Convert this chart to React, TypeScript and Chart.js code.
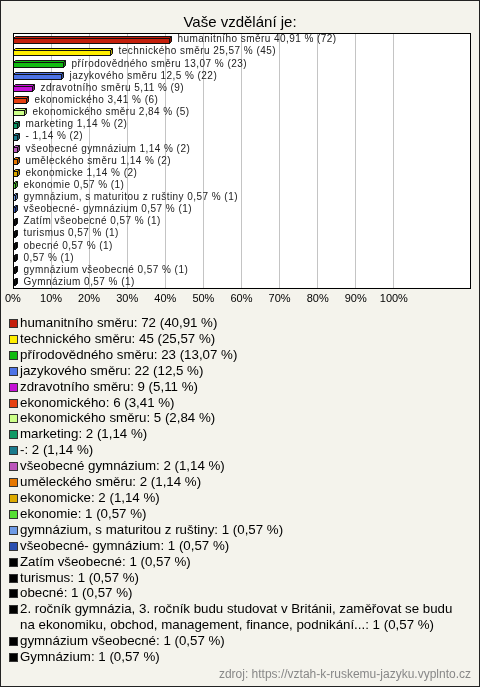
import React, { useEffect, useRef } from 'react';
import { Chart, registerables } from 'chart.js';

Chart.register(...registerables);

const categories = [
  'humanitního směru',
  'technického směru',
  'přírodovědného směru',
  'jazykového směru',
  'zdravotního směru',
  'ekonomického',
  'ekonomického směru',
  'marketing',
  '-',
  'všeobecné gymnázium',
  'uměleckého směru',
  'ekonomicke',
  'ekonomie',
  'gymnázium, s maturitou z ruštiny',
  'všeobecné- gymnázium',
  'Zatím všeobecné',
  'turismus',
  'obecné',
  '2. ročník gymnázia, 3. ročník budu studovat v Británii, zaměřovat se budu na ekonomiku, obchod, management, finance, podnikání...',
  'gymnázium všeobecné',
  'Gymnázium',
];

// names printed next to bars (the long answer is shown without a name)
const barNames = [
  'humanitního směru',
  'technického směru',
  'přírodovědného směru',
  'jazykového směru',
  'zdravotního směru',
  'ekonomického',
  'ekonomického směru',
  'marketing',
  '-',
  'všeobecné gymnázium',
  'uměleckého směru',
  'ekonomicke',
  'ekonomie',
  'gymnázium, s maturitou z ruštiny',
  'všeobecné- gymnázium',
  'Zatím všeobecné',
  'turismus',
  'obecné',
  '',
  'gymnázium všeobecné',
  'Gymnázium',
];

const counts = [72, 45, 23, 22, 9, 6, 5, 2, 2, 2, 2, 2, 1, 1, 1, 1, 1, 1, 1, 1, 1];
const percents = [40.91, 25.57, 13.07, 12.5, 5.11, 3.41, 2.84, 1.14, 1.14, 1.14, 1.14, 1.14, 0.57, 0.57, 0.57, 0.57, 0.57, 0.57, 0.57, 0.57, 0.57];

const colors = [
  '#c41f0c', '#ffee00', '#11bb11', '#4d73e6', '#c411d4', '#e64010', '#ccff88',
  '#119966', '#1a7a8c', '#bb55bb', '#e67700', '#ddaa00', '#55dd33', '#6f9be6',
  '#2a4fb0', '#000000', '#000000', '#000000', '#000000', '#000000', '#000000',
];

const xTickMax = 100;
const xAxisMax = 120;

const fmt = (v: number) => String(v).replace('.', ',');

function shade(hex: string, f: number) {
  const n = parseInt(hex.slice(1), 16);
  const r = Math.round(((n >> 16) & 255) * f);
  const g = Math.round(((n >> 8) & 255) * f);
  const b = Math.round((n & 255) * f);
  return `rgb(${r},${g},${b})`;
}

const FONT = '"Liberation Sans", Arial, sans-serif';

const plotPlugin = {
  id: 'plot3d',
  beforeDraw(chart: any) {
    const { ctx, chartArea: a } = chart;
    ctx.save();
    ctx.fillStyle = '#ffffff';
    ctx.fillRect(a.left, a.top, a.right - a.left, a.bottom - a.top);
    ctx.restore();
  },
  afterDatasetsDraw(chart: any) {
    const { ctx, chartArea: a } = chart;
    const meta = chart.getDatasetMeta(0);
    const d = 2;
    ctx.save();
    ctx.lineWidth = 1;
    ctx.strokeStyle = '#111';
    meta.data.forEach((el: any, i: number) => {
      const p = el.getProps(['x', 'y', 'base', 'height'], true);
      const x0 = Math.round(p.base) + 0.5;
      const x1 = Math.max(Math.round(p.x) + 0.5, x0 + 1);
      const y0 = Math.round(p.y - p.height / 2 + 1) + 0.5;
      const y1 = y0 + Math.round(p.height);
      const c = colors[i];
      // top face
      ctx.beginPath();
      ctx.moveTo(x0, y0);
      ctx.lineTo(x0 + d, y0 - d);
      ctx.lineTo(x1 + d, y0 - d);
      ctx.lineTo(x1, y0);
      ctx.closePath();
      ctx.fillStyle = c;
      ctx.fill();
      ctx.stroke();
      // side face
      ctx.beginPath();
      ctx.moveTo(x1, y0);
      ctx.lineTo(x1 + d, y0 - d);
      ctx.lineTo(x1 + d, y1 - d);
      ctx.lineTo(x1, y1);
      ctx.closePath();
      ctx.fillStyle = shade(c, 0.7);
      ctx.fill();
      ctx.stroke();
      // front face
      ctx.fillStyle = c;
      ctx.fillRect(x0, y0, x1 - x0, y1 - y0);
      ctx.strokeRect(x0, y0, x1 - x0, y1 - y0);
      // label
      const name = barNames[i];
      const txt = (name ? name + ' ' : '') + fmt(percents[i]) + ' % (' + counts[i] + ')';
      ctx.fillStyle = '#222';
      ctx.font = '10px ' + FONT;
      try { (ctx as any).letterSpacing = '0.45px'; } catch (e) {}
      ctx.textBaseline = 'middle';
      ctx.textAlign = 'left';
      ctx.fillText(txt, x1 + d + 6, p.y + 0.5);
      try { (ctx as any).letterSpacing = '0px'; } catch (e) {}
    });
    // plot border
    ctx.strokeStyle = '#000';
    ctx.strokeRect(Math.round(a.left) + 0.5, Math.round(a.top) + 0.5, Math.round(a.right - a.left), Math.round(a.bottom - a.top));
    ctx.restore();
  },
};

function BarChart() {
  const ref = useRef<HTMLCanvasElement>(null);
  useEffect(() => {
    if (!ref.current) return;
    const chart = new Chart(ref.current, {
      type: 'bar',
      data: {
        labels: categories,
        datasets: [
          {
            data: percents,
            backgroundColor: 'rgba(0,0,0,0)',
            borderWidth: 0,
            barThickness: 5,
          },
        ],
      },
      options: {
        indexAxis: 'y',
        animation: false,
        responsive: false,
        maintainAspectRatio: false,
        layout: { padding: { left: 10, right: 10, top: 0, bottom: 5 } },
        plugins: {
          legend: { display: false },
          tooltip: { enabled: false },
          title: {
            display: true,
            text: 'Vaše vzdělání je:',
            color: '#000',
            font: { family: FONT, size: 15, weight: 'normal' },
            padding: { top: 14, bottom: 1 },
          },
        },
        scales: {
          x: {
            min: 0,
            max: xAxisMax,
            border: { display: false },
            grid: {
              color: (c: any) => (c.tick && c.tick.value > 0 && c.tick.value <= xTickMax ? '#c4c4c4' : 'rgba(0,0,0,0)'),
              drawTicks: false,
            },
            ticks: {
              stepSize: 10,
              padding: 5,
              color: '#000',
              maxRotation: 0,
              autoSkip: false,
              font: { family: FONT, size: 11 },
              callback: (v: any) => (Number(v) <= xTickMax ? v + '%' : ''),
            },
          },
          y: {
            display: false,
          },
        },
      },
      plugins: [plotPlugin],
    } as any);
    return () => chart.destroy();
  }, []);
  return <canvas ref={ref} width={480} height={316} style={{ display: 'block', width: 480, height: 316 }} />;
}

export default function App() {
  return (
    <div
      style={{
        position: 'absolute',
        left: 0,
        top: 0,
        width: 478,
        height: 685,
        border: '1px solid #222',
        background: '#f4f3ec',
        overflow: 'hidden',
        fontFamily: FONT,
      }}
    >
      <div style={{ position: 'absolute', left: -1, top: -1 }}>
        <BarChart />
      </div>
      <div
        style={{
          position: 'absolute',
          left: 8,
          top: 314,
          width: 458,
          fontSize: 13.3,
          lineHeight: '15.9px',
          color: '#000',
        }}
      >
        {categories.map((c, i) => (
          <div key={i} style={{ display: 'flex', alignItems: 'flex-start' }}>
            <span
              style={{
                flex: 'none',
                width: 7,
                height: 7,
                border: '1px solid #333',
                background: colors[i],
                marginTop: 4,
                marginRight: 2,
              }}
            />
            <span>
              {c}: {counts[i]} ({fmt(percents[i])} %)
            </span>
          </div>
        ))}
      </div>
      <div
        style={{
          position: 'absolute',
          right: 8,
          top: 666,
          fontSize: 12,
          color: '#888',
        }}
      >
        zdroj: https://vztah-k-ruskemu-jazyku.vyplnto.cz
      </div>
    </div>
  );
}
